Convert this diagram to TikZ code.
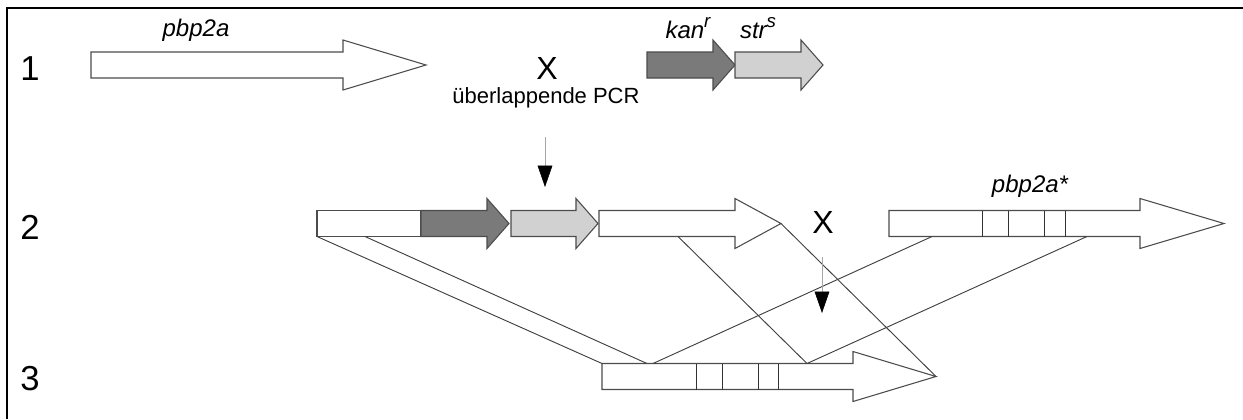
\documentclass[tikz,border=0pt]{standalone}
\usepackage{fontspec}
\setmainfont{Liberation Sans}
\usetikzlibrary{arrows.meta}

% gene as a block arrow: style, shaft start, head start, tip, centre line
\newcommand{\genearrow}[5][gene]{%
  \draw[#1] (#2,#5-13) -- (#3,#5-13) -- (#3,#5-25) -- (#4,#5)
    -- (#3,#5+25) -- (#3,#5+13) -- (#2,#5+13) -- cycle;}
% superscript marker of a resistance gene
\newcommand{\resmark}[1]{\raisebox{0.45em}{\fontsize{14}{16}\selectfont #1}}

\begin{document}
\begin{tikzpicture}[
  x=0.75pt, y=-0.75pt,
  gene/.style={draw=black!70, line width=0.8pt, fill=white, line join=miter},
  kanr/.style={gene, fill=black!52},
  strs/.style={gene, fill=black!18},
  site/.style={draw=black!80, line width=0.7pt},
  cross/.style={draw=black!75, line width=0.7pt},
  pcrarr/.style={draw=black!35, line width=0.4pt, -{Triangle[length=16pt,width=11pt,black]}},
  rowno/.style={font=\fontsize{26}{30}\selectfont},
  big/.style={font=\fontsize{24}{28}\selectfont},
  lbl/.style={font=\fontsize{18}{21}\selectfont\itshape},
]
\useasboundingbox (0,0) rectangle (1243,419);

% frame
\draw[line width=1.5pt] (7,419) -- (7,8) -- (1243,8);

% row numbers
\node[rowno] (n1) at (30,69) {1};
\node[rowno] (n2) at (30,227) {2};
\node[rowno] (n3) at (30,379) {3};

% step 1: wild type gene and resistance cassette
\genearrow{91}{343}{426}{65}
\genearrow[kanr]{647}{713}{735}{65}
\genearrow[strs]{735}{801}{823}{65}
\node[lbl] (pbp) at (196,30) {pbp2a};
\node[lbl] (kan) at (688,28) {kan\resmark{r}};
\node[lbl] (str) at (758,28) {str\resmark{s}};
\node[big] (x1) at (547,68) {X};
\node[font=\fontsize{16.5}{20}\selectfont] (pcr) at (546,98) {überlappende PCR};

% step 2: fusion product and mutated gene
\draw[gene] (317,210.5) rectangle (421,236.5);
\genearrow[kanr]{421}{487}{509}{223.5}
\genearrow[strs]{511}{576}{598}{223.5}
\genearrow{599}{735}{781}{223.5}
\genearrow{889}{1140}{1224}{223.5}
\foreach \s in {982,1008,1044,1065}
  \draw[site] (\s,210.5) -- (\s,236.5);
\node[lbl] (pbpm) at (1030,186) {pbp2a*};
\node[big] (x2) at (823,222) {X};

% step 3: recombinant
\genearrow{602}{853}{936}{376.5}
\foreach \s in {696,722,758,778}
  \draw[site] (\s,363.5) -- (\s,389.5);

% crossover points
\coordinate (l1) at (317,236.5);
\coordinate (l2) at (365,236.5);
\coordinate (l3) at (678,236.5);
\coordinate (t2) at (781,223.5);
\coordinate (m1) at (932,236.5);
\coordinate (m2) at (1087,236.5);
\coordinate (r1) at (602,363.5);
\coordinate (r2) at (647,363.5);
\coordinate (r3) at (653,363.5);
\coordinate (r4) at (807,363.5);
\coordinate (t3) at (936,376.5);

\draw[cross] (l1) -- (r1);
\draw[cross] (l2) -- (r2);
\draw[cross] (l3) -- (r4);
\draw[cross] (t2) -- (t3);
\draw[cross] (m1) -- (r3);
\draw[cross] (m2) -- (r4);

% arrows between the steps
\coordinate (a1s) at (545,137);
\coordinate (a1e) at (545,187);
\coordinate (a2s) at (822,257);
\coordinate (a2e) at (822,313);
\draw[pcrarr] (a1s) -- (a1e);
\draw[pcrarr] (a2s) -- (a2e);
\end{tikzpicture}
\end{document}
